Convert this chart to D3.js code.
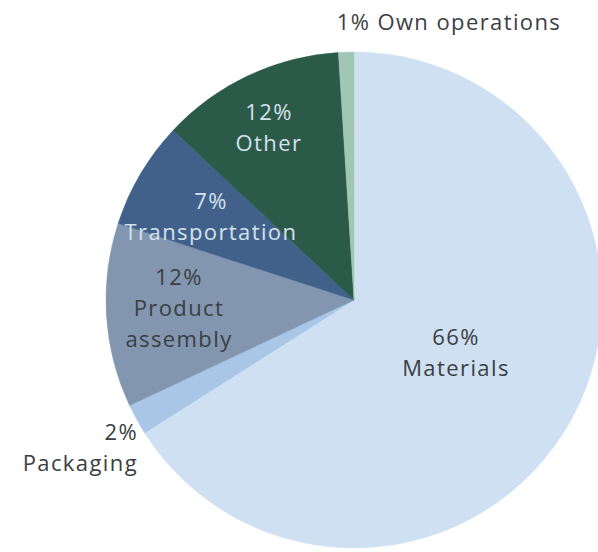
<!DOCTYPE html>
<html>
<head>
<meta charset="utf-8">
<script src="https://cdn.jsdelivr.net/npm/d3@7"></script>
<style>
  html, body { margin: 0; padding: 0; background: #ffffff; }
  svg { display: block; }
  text { font-family: "Open Sans", "Noto Sans", sans-serif; font-size: 22px; letter-spacing: 1.4px; font-variant-ligatures: none; }
</style>
</head>
<body>
<svg id="chart" width="598" height="552"></svg>
<script>
// Emission sources, clockwise from 12 o'clock
const categories = ["Materials", "Packaging", "Product assembly", "Transportation", "Other", "Own operations"];
const shares = [66, 2, 12, 7, 12, 1];
const colors = ["#cfe0f2", "#a9c6e7", "#8297af", "#41618b", "#2b5a49", "#a0c6b4"];
const labelLines = [
  ["66%", "Materials"],
  ["2%", "Packaging"],
  ["12%", "Product", "assembly"],
  ["7%", "Transportation"],
  ["12%", "Other"],
  ["1% Own operations"]
];
const labelColors = ["#3b3e42", "#3b3e42", "#3b3e42", "#d5e1ec", "#d5e1ec", "#3b3e42"];

const svg = d3.select("#chart");
const cx = 354, cy = 300, r = 248;

const pie = d3.pie().sort(null).value(d => d.value);
const arcs = pie(categories.map((c, i) => ({ name: c, value: shares[i], i })));
const arc = d3.arc().innerRadius(0).outerRadius(r);

const g = svg.append("g").attr("transform", `translate(${cx},${cy})`);

g.selectAll("path")
  .data(arcs)
  .join("path")
  .attr("d", arc)
  .attr("fill", d => colors[d.data.i])
  .attr("stroke", d => colors[d.data.i])
  .attr("stroke-width", 0.5);

// Label placement in page coordinates: x, first baseline, anchor
const labelPos = [
  { x: 456, y: 345, anchor: "middle" },
  { x: 138, y: 440, anchor: "end" },
  { x: 179, y: 285, anchor: "middle" },
  { x: 211, y: 209, anchor: "middle" },
  { x: 269, y: 120, anchor: "middle" },
  { x: 449, y: 30, anchor: "middle" }
];
const lineH = 31;

arcs.forEach(d => {
  const i = d.data.i;
  const p = labelPos[i];
  const t = svg.append("text")
    .attr("text-anchor", p.anchor)
    .attr("fill", labelColors[i]);
  labelLines[i].forEach((ln, k) => {
    t.append("tspan").attr("x", p.x).attr("y", p.y + k * lineH).text(ln);
  });
});
</script>
</body>
</html>
